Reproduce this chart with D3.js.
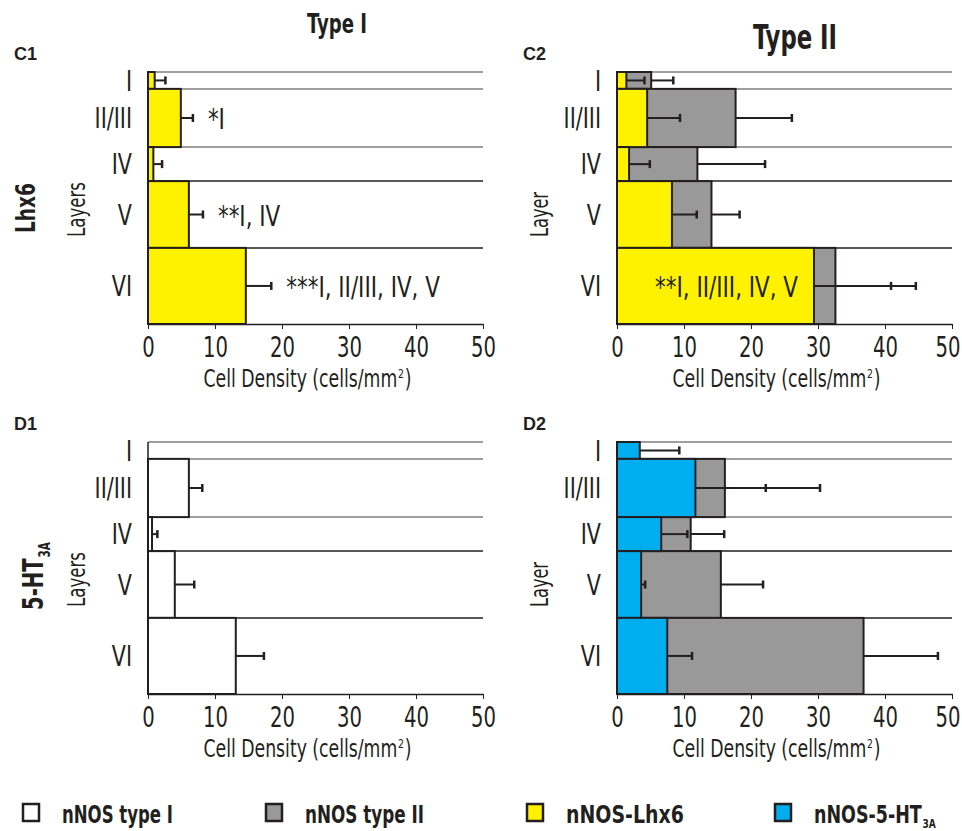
<!DOCTYPE html>
<html><head><meta charset="utf-8">
<script src="https://cdn.jsdelivr.net/npm/d3@7"></script>
<style>
body{margin:0;background:#fff}
svg{display:block}
text{font-family:"Liberation Sans Narrow","DejaVu Sans Condensed","Arial Narrow",sans-serif;fill:#231f20}
</style></head><body>
<svg id="chart" width="962" height="831"></svg>
<script>
// ---------- DATA ----------
const layers = ["I", "II/III", "IV", "V", "VI"];
// relative cortical depth of layer boundaries (%)
const layerBoundaries = [0, 6.7, 29.8, 43.3, 69.8, 100];
const xTicks = [0, 10, 20, 30, 40, 50];

// C1: Lhx6 / Type I
const c1Lhx6 = [1.0, 4.9, 0.8, 6.1, 14.6];
const c1Lhx6Sem = [1.6, 1.8, 1.3, 2.1, 3.8];
const c1Signif = ["", "*I", "", "**I, IV", "***I, II/III, IV, V"];

// C2: Lhx6 / Type II
const c2TypeII = [5.1, 17.7, 12.0, 14.1, 32.6];
const c2TypeIISem = [3.3, 8.4, 10.1, 4.2, 12.0];
const c2Lhx6 = [1.4, 4.5, 1.8, 8.2, 29.4];
const c2Lhx6Sem = [2.7, 4.9, 3.1, 3.7, 11.5];
const c2Signif = ["", "", "", "", "**I, II/III, IV, V"];

// D1: 5-HT3A / Type I
const d1TypeI = [0, 6.1, 0.6, 4.0, 13.1];
const d1TypeISem = [null, 2.0, 0.8, 2.9, 4.2];

// D2: 5-HT3A / Type II
const d2TypeII = [0, 16.1, 11.0, 15.5, 36.8];
const d2TypeIISem = [null, 14.2, 5.0, 6.3, 11.1];
const d2Ht3a = [3.4, 11.7, 6.6, 3.6, 7.5];
const d2Ht3aSem = [5.9, 10.5, 3.9, 0.6, 3.7];

const legendLabels = ["nNOS type I", "nNOS type II", "nNOS-Lhx6", "nNOS-5-HT"];

// ---------- STYLE ----------
const INK = "#231f20";
const WHITE = "#ffffff", GRAY = "#999999", YELLOW = "#fff200", CYAN = "#00aeef";
const legendFills = [WHITE, GRAY, YELLOW, CYAN];
const legendWidths = [111, 119, 118, 122];

const svg = d3.select("#chart");
const PW = 335, PH = 252;
const TICK_SQ = 0.78;

// condense text (no condensed font installed)
function squeeze(sel, f) {
  sel.each(function () {
    const L = this.getComputedTextLength();
    d3.select(this).attr("lengthAdjust", "spacingAndGlyphs").attr("textLength", L * f);
  });
}
function fitW(sel, w) { sel.attr("lengthAdjust", "spacingAndGlyphs").attr("textLength", w); }

const panels = [
  {tag: "C1", left: 148, top: 72, series: [{v: c1Lhx6, e: c1Lhx6Sem, fill: YELLOW}],
   signif: c1Signif, signifMode: "after", ylab: "Layers", ylabX: 85, ylabW: 55},
  {tag: "C2", left: 617, top: 72, series: [{v: c2TypeII, e: c2TypeIISem, fill: GRAY}, {v: c2Lhx6, e: c2Lhx6Sem, fill: YELLOW}],
   signif: c2Signif, signifMode: "inside", ylab: "Layer", ylabX: 548, ylabW: 45},
  {tag: "D1", left: 148, top: 442, series: [{v: d1TypeI, e: d1TypeISem, fill: WHITE}],
   signif: null, ylab: "Layers", ylabX: 85, ylabW: 55},
  {tag: "D2", left: 617, top: 442, series: [{v: d2TypeII, e: d2TypeIISem, fill: GRAY}, {v: d2Ht3a, e: d2Ht3aSem, fill: CYAN}],
   signif: null, ylab: "Layer", ylabX: 548, ylabW: 45}
];

function drawPanel(p) {
  const x = d3.scaleLinear().domain([0, 50]).range([p.left, p.left + PW]);
  const y = d3.scaleLinear().domain([0, 100]).range([p.top, p.top + PH]);
  const g = svg.append("g");
  const rows = layers.map((l, i) => ({i, l, y0: y(layerBoundaries[i]), y1: y(layerBoundaries[i + 1])}));

  // boundary lines
  g.selectAll("line.grid").data(rows).join("line").attr("class", "grid")
    .attr("x1", x(0)).attr("x2", x(50))
    .attr("y1", d => d.y0).attr("y2", d => d.y0)
    .attr("stroke", d => d.i < 3 ? "#7f7f7f" : INK).attr("stroke-width", 1.5);

  // bars
  p.series.forEach(s => {
    g.selectAll(null).data(rows.filter(r => s.v[r.i] > 0)).join("rect")
      .attr("x", x(0)).attr("y", d => d.y0)
      .attr("width", d => x(s.v[d.i]) - x(0)).attr("height", d => d.y1 - d.y0)
      .attr("fill", s.fill).attr("stroke", INK).attr("stroke-width", 2);
  });
  // error bars
  p.series.forEach(s => {
    const er = rows.filter(r => s.e[r.i] != null);
    g.selectAll(null).data(er).join("line")
      .attr("x1", d => x(s.v[d.i])).attr("x2", d => x(s.v[d.i] + s.e[d.i]))
      .attr("y1", d => (d.y0 + d.y1) / 2).attr("y2", d => (d.y0 + d.y1) / 2)
      .attr("stroke", INK).attr("stroke-width", 2);
    g.selectAll(null).data(er).join("line")
      .attr("x1", d => x(s.v[d.i] + s.e[d.i])).attr("x2", d => x(s.v[d.i] + s.e[d.i]))
      .attr("y1", d => (d.y0 + d.y1) / 2 - 4).attr("y2", d => (d.y0 + d.y1) / 2 + 4)
      .attr("stroke", INK).attr("stroke-width", 2.5);
  });

  // left axis line
  g.append("line").attr("x1", x(0)).attr("x2", x(0)).attr("y1", y(0)).attr("y2", y(100))
    .attr("stroke", INK).attr("stroke-width", 1.5);

  // bottom axis
  const ax = g.append("g").attr("transform", `translate(0,${y(100)})`)
    .call(d3.axisBottom(x).tickValues(xTicks).tickSize(5).tickPadding(8).tickSizeOuter(0));
  ax.select(".domain").attr("stroke", INK).attr("stroke-width", 1.5);
  ax.selectAll(".tick line").attr("stroke", INK).attr("stroke-width", 1);
  const tt = ax.selectAll(".tick text").attr("font-size", 28).attr("fill", INK)
    .style("font-family", '"Liberation Sans Narrow","DejaVu Sans Condensed",sans-serif')
    .attr("transform", `scale(${TICK_SQ},1)`);
  // keep the last label inside the page edge (right-align it just inside)
  tt.filter(d => x(d) + 12 > 960)
    .attr("text-anchor", "end").attr("x", d => (960 - x(d)) / TICK_SQ);

  // layer labels
  const ll = g.selectAll("text.layer").data(rows).join("text").attr("class", "layer")
    .attr("x", x(0) - 16).attr("y", d => (d.y0 + d.y1) / 2).attr("dy", "0.36em")
    .attr("text-anchor", "end").attr("font-size", 28).text(d => d.l);
  squeeze(ll, 0.82);

  // axis title (condensed with a transform so the superscript stays in place)
  const t = g.append("text")
    .attr("transform", `translate(${(x(0) + x(50)) / 2 - 8},${y(100) + 63}) scale(0.8,1)`)
    .attr("text-anchor", "middle").attr("font-size", 24);
  t.append("tspan").text("Cell Density (cells/mm");
  t.append("tspan").attr("dx", 1).attr("dy", -9).attr("font-size", 13).text("2");
  t.append("tspan").attr("dx", 1).attr("dy", 9).text(")");

  // y label
  const yl = g.append("text").attr("transform", `translate(${p.ylabX},${p.top + 165}) rotate(-90)`)
    .attr("font-size", 24).text(p.ylab);
  fitW(yl, p.ylabW);

  // panel tag
  g.append("text").attr("x", p.left < 300 ? 14 : p.left - 94).attr("y", p.top - 12)
    .style("font-family", '"Liberation Sans",Arial,sans-serif').attr("font-weight", "bold")
    .attr("font-size", 18).text(p.tag);

  // significance annotations
  if (p.signif) {
    const main = p.series[p.series.length - 1];
    const sg = g.selectAll("text.sig").data(rows.filter(r => p.signif[r.i])).join("text").attr("class", "sig")
      .attr("x", d => p.signifMode === "after" ? x(main.v[d.i] + main.e[d.i]) + 15 : x(main.v[d.i]) - 16)
      .attr("text-anchor", p.signifMode === "after" ? "start" : "end")
      .attr("y", d => (d.y0 + d.y1) / 2).attr("dy", "0.4em")
      .attr("font-size", 28).text(d => p.signif[d.i]);
    squeeze(sg, 0.85);
  }
}
panels.forEach(drawPanel);

// column titles
fitW(svg.append("text").attr("x", 337).attr("y", 33).attr("text-anchor", "middle")
  .attr("font-weight", "bold").attr("font-size", 27).text("Type I"), 60);
fitW(svg.append("text").attr("x", 795).attr("y", 49).attr("text-anchor", "middle")
  .attr("font-weight", "bold").attr("font-size", 33).text("Type II"), 84);

// row labels
fitW(svg.append("text").attr("transform", "translate(35,208) rotate(-90)").attr("text-anchor", "middle")
  .attr("font-weight", "bold").attr("font-size", 27).text("Lhx6"), 50);
const rl = svg.append("text").attr("transform", "translate(43,576) rotate(-90) scale(0.78,1)")
  .attr("text-anchor", "middle").attr("font-weight", "bold").attr("font-size", 28);
rl.append("tspan").text("5-HT");
rl.append("tspan").attr("dx", 1).attr("dy", 7).attr("font-size", 15).text("3A");

// legend
const legX = [23, 266, 527, 775];
const lg = svg.append("g");
legendLabels.forEach((lab, i) => {
  lg.append("rect").attr("x", legX[i]).attr("y", 804).attr("width", 16).attr("height", 17)
    .attr("fill", legendFills[i]).attr("stroke", INK).attr("stroke-width", 2.5);
  const tx = lg.append("text").attr("font-weight", "bold").attr("font-size", 25);
  tx.append("tspan").text(lab);
  if (i === 3) tx.append("tspan").attr("dx", 1).attr("dy", 5).attr("font-size", 13).text("3A");
  const w = tx.node().getBBox().width;
  tx.attr("transform", `translate(${legX[i] + 39},823) scale(${legendWidths[i] / w},1)`);
});
</script>
</body></html>
